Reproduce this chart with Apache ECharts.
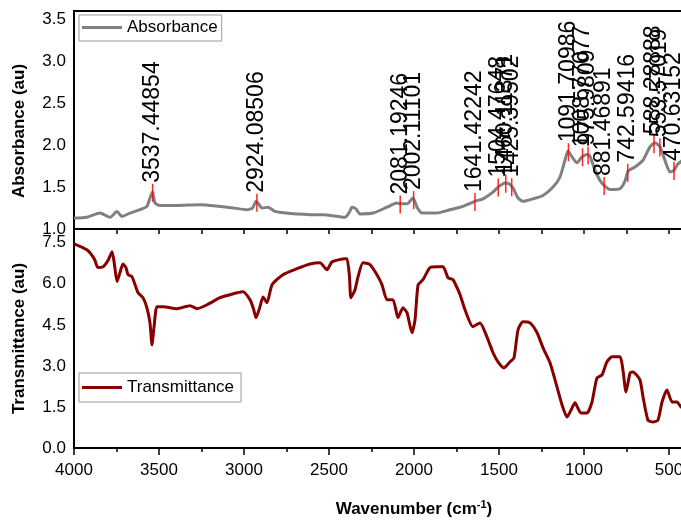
<!DOCTYPE html>
<html>
<head>
<meta charset="utf-8">
<script src="https://cdn.jsdelivr.net/npm/echarts@6/dist/echarts.min.js"></script>
<style>
  html, body { margin: 0; background: #fff; }
  #main { width: 681px; height: 524px; }
</style>
</head>
<body>
<div id="main"></div>
<script>
// ---------- data
const absWave = [4000, 3924, 3847, 3788, 3747, 3718, 3671, 3612, 3571, 3553, 3541, 3537, 3524, 3494, 3400, 3259, 3150, 3024,
  2982, 2950, 2929, 2915, 2894, 2859, 2818, 2750, 2688, 2600, 2535, 2406, 2380, 2365, 2341, 2318, 2241, 2159, 2100, 2082,
  2041, 2006, 1982, 1953, 1865, 1788, 1729, 1712, 1641, 1594, 1535, 1506, 1465, 1441, 1418, 1388, 1359, 1300, 1241, 1182,
  1141, 1112, 1094, 1071, 1041, 1012, 982, 965, 935, 906, 882, 847, 788, 759, 741, 700, 653, 612, 582, 553, 524, 494, 470,
  450, 400];
const absVal = [1.13, 1.14, 1.19, 1.14, 1.21, 1.15, 1.19, 1.23, 1.27, 1.37, 1.43, 1.44, 1.31, 1.28, 1.28, 1.29, 1.27, 1.24,
  1.23, 1.25, 1.33, 1.30, 1.25, 1.26, 1.21, 1.19, 1.18, 1.17, 1.17, 1.14, 1.20, 1.26, 1.24, 1.18, 1.19, 1.26, 1.31, 1.30,
  1.30, 1.37, 1.26, 1.19, 1.19, 1.23, 1.26, 1.27, 1.33, 1.36, 1.44, 1.50, 1.55, 1.54, 1.49, 1.37, 1.33, 1.36, 1.40, 1.50,
  1.62, 1.82, 1.93, 1.86, 1.79, 1.86, 1.89, 1.87, 1.70, 1.58, 1.52, 1.47, 1.48, 1.57, 1.69, 1.74, 1.82, 1.98, 2.03, 1.98,
  1.82, 1.68, 1.70, 1.77, 1.85];

const trWave = [4000, 3924, 3880, 3859, 3829, 3800, 3776, 3762, 3747, 3730, 3712, 3695, 3682, 3659, 3623, 3594, 3571, 3553,
  3541, 3529, 3512, 3476, 3394, 3318, 3276, 3218, 3141, 3082, 3041, 3006, 2965, 2945, 2929, 2906, 2888, 2865, 2835, 2771,
  2688, 2612, 2553, 2512, 2482, 2406, 2394, 2380, 2371, 2347, 2329, 2300, 2259, 2218, 2188, 2159, 2124, 2094, 2065, 2041,
  2012, 1994, 1976, 1947, 1906, 1865, 1829, 1800, 1771, 1750, 1729, 1700, 1653, 1612, 1571, 1535, 1506, 1471, 1435, 1412,
  1388, 1359, 1318, 1276, 1241, 1200, 1159, 1129, 1100, 1076, 1053, 1018, 982, 953, 924, 894, 865, 835, 788, 771, 753, 729,
  712, 671, 653, 624, 594, 565, 541, 512, 482, 453, 429, 400];
const trVal = [7.46, 7.24, 6.90, 6.59, 6.62, 6.85, 7.17, 6.70, 6.08, 6.40, 6.72, 6.60, 6.33, 6.26, 5.67, 5.49, 5.12, 4.57,
  3.77, 4.43, 5.16, 5.16, 5.09, 5.20, 5.09, 5.23, 5.49, 5.60, 5.67, 5.71, 5.42, 5.10, 4.76, 5.16, 5.52, 5.31, 5.96, 6.33,
  6.55, 6.72, 6.77, 6.51, 6.80, 6.91, 6.91, 6.30, 5.49, 5.78, 6.26, 6.77, 6.70, 6.33, 5.96, 5.42, 5.42, 4.76, 5.12, 4.94,
  4.21, 4.68, 5.96, 6.15, 6.59, 6.62, 6.62, 6.22, 6.15, 5.90, 5.60, 5.05, 4.43, 4.57, 4.06, 3.48, 3.15, 2.93, 3.15, 3.29,
  4.32, 4.61, 4.57, 4.21, 3.66, 3.11, 2.23, 1.57, 1.13, 1.39, 1.65, 1.28, 1.28, 1.68, 2.56, 2.67, 3.15, 3.33, 3.33, 2.85,
  2.05, 2.74, 2.78, 2.49, 1.87, 1.02, 0.95, 1.02, 1.68, 2.12, 1.68, 1.68, 1.50, 1.45];

const peakLabels = ["3537.44854", "2924.08506", "2081.19246", "2002.11101", "1641.42242", "1504.47648", "1460.11371",
  "1425.39502", "1091.70986", "1008.77077", "975.9809", "881.46891", "742.59416", "588.28888", "553.57019", "470.63152"];

const xTicks = { min: 0, max: 4000, interval: 500 };
// ---------- data

const font = '"Liberation Sans", Arial, sans-serif';
const absColor = "#808080";
const trColor = "#870000";

//absorbance value at a given wavenumber, used to sit the peak markers on the curve
function absAt(w) {
    for (let i = 0; i < absWave.length - 1; i++) {
        if (w <= absWave[i] && w >= absWave[i + 1]) {
            const t = (absWave[i] - w) / (absWave[i] - absWave[i + 1]);
            return absVal[i] + t * (absVal[i + 1] - absVal[i]);
        }
    }
    return absVal[absVal.length - 1];
}

const myChart = echarts.init(document.getElementById("main"));

const labelStyle = { color: "#000", fontSize: 17, fontFamily: font };
const nameStyle = { color: "#000", fontSize: 17, fontFamily: font, fontWeight: "bold" };

const option = {
    animation: false,
    grid: [
        { left: 74, top: 11, width: 680, height: 218, show: true, borderColor: "#000", borderWidth: 2, outerBoundsMode: "none" },
        { left: 74, top: 229, width: 680, height: 219, show: true, borderColor: "#000", borderWidth: 2, outerBoundsMode: "none" }
    ],
    legend: [
        {
            data: ["Absorbance"], left: 79, top: 15, icon: "rect", itemWidth: 40, itemHeight: 3,
            borderColor: "#999", borderWidth: 1, padding: [4, 4, 5, 3],
            textStyle: { color: "#000", fontSize: 17, fontFamily: font }
        },
        {
            data: ["Transmittance"], left: 79, top: 373, icon: "rect", itemWidth: 40, itemHeight: 3,
            borderColor: "#999", borderWidth: 1, padding: [6, 7, 6, 3],
            textStyle: { color: "#000", fontSize: 17, fontFamily: font }
        }
    ],
    xAxis: [
        {
            gridIndex: 0, type: "value", inverse: true, min: xTicks.min, max: xTicks.max, interval: xTicks.interval,
            axisLine: { show: false }, axisTick: { show: false }, axisLabel: { show: false }, splitLine: { show: false }
        },
        {
            gridIndex: 1, type: "value", inverse: true, position: "bottom",
            min: xTicks.min, max: xTicks.max, interval: xTicks.interval,
            axisLine: { lineStyle: { color: "#000", width: 2 } },
            axisTick: { length: 7, lineStyle: { color: "#000", width: 1.5 } },
            minorTick: { show: true, splitNumber: 2, length: 4, lineStyle: { color: "#000", width: 1.5 } },
            axisLabel: Object.assign({ margin: 14, formatter: v => String(v) }, labelStyle),
            splitLine: { show: false },
            name: "{b|Wavenumber (cm}{s|-1}{b|)}",
            nameLocation: "middle",
            nameGap: 51,
            nameTextStyle: {
                rich: {
                    b: nameStyle,
                    s: { color: "#000", fontSize: 11, fontFamily: font, fontWeight: "bold", padding: [0, 0, 9, 0] }
                }
            }
        },
        {
            gridIndex: 1, type: "value", inverse: true, position: "top",
            min: xTicks.min, max: xTicks.max, interval: xTicks.interval,
            axisLine: { lineStyle: { color: "#000", width: 2 } },
            axisTick: { inside: true, length: 5, lineStyle: { color: "#000", width: 1.5 } },
            minorTick: { show: true, splitNumber: 2, length: 5, lineStyle: { color: "#000", width: 1.5 } },
            axisLabel: { show: false }, splitLine: { show: false }
        }
    ],
    yAxis: [
        {
            gridIndex: 0, type: "value", min: 1.0, max: 3.6, interval: 0.5,
            axisLine: { show: true, lineStyle: { color: "#000", width: 2 } },
            axisTick: { show: true, length: 7, lineStyle: { color: "#000", width: 1.5 } },
            minorTick: { show: true, splitNumber: 2, length: 4, lineStyle: { color: "#000", width: 1.5 } },
            axisLabel: Object.assign({ showMaxLabel: false, formatter: v => v.toFixed(1) }, labelStyle),
            splitLine: { show: false },
            name: "Absorbance (au)", nameLocation: "middle", nameGap: 46,
            nameTextStyle: Object.assign({ padding: [0, 22, 0, 0] }, nameStyle)
        },
        {
            gridIndex: 1, type: "value", min: 0, max: 8, interval: 1.5,
            axisLine: { show: true, lineStyle: { color: "#000", width: 2 } },
            axisTick: { show: true, length: 7, lineStyle: { color: "#000", width: 1.5 } },
            minorTick: { show: true, splitNumber: 2, length: 4, lineStyle: { color: "#000", width: 1.5 } },
            axisLabel: Object.assign({ showMaxLabel: false, formatter: v => v.toFixed(1) }, labelStyle),
            splitLine: { show: false },
            name: "Transmittance (au)", nameLocation: "middle", nameGap: 46,
            nameTextStyle: nameStyle
        }
    ],
    series: [
        {
            name: "Absorbance", type: "line", xAxisIndex: 0, yAxisIndex: 0,
            symbol: "none", smooth: 0.2, color: absColor,
            lineStyle: { color: absColor, width: 3 },
            data: absWave.map((w, i) => [w, absVal[i]])
        },
        {
            name: "Transmittance", type: "line", xAxisIndex: 1, yAxisIndex: 1,
            symbol: "none", smooth: 0.2, color: trColor,
            lineStyle: { color: trColor, width: 3 },
            data: trWave.map((w, i) => [w, trVal[i]])
        },
        {
            //red peak markers with their rotated labels
            type: "custom", xAxisIndex: 0, yAxisIndex: 0, clip: false, z: 5,
            data: peakLabels.map(d => [Number(d)]),
            renderItem: (params, api) => {
                const w = api.value(0);
                const v = absAt(w);
                const top = api.coord([w, v + 0.1]);
                const bot = api.coord([w, v - 0.115]);
                return {
                    type: "group",
                    children: [
                        {
                            type: "line",
                            shape: { x1: top[0], y1: top[1], x2: bot[0], y2: bot[1] },
                            style: { stroke: "rgba(255,0,0,0.85)", lineWidth: 1.5 }
                        },
                        {
                            type: "text", x: top[0], y: top[1] - 1, rotation: Math.PI / 2,
                            style: {
                                text: peakLabels[params.dataIndex], fill: "#000",
                                font: "23px " + font, align: "left", verticalAlign: "middle"
                            }
                        }
                    ]
                };
            }
        }
    ]
};

myChart.setOption(option);
</script>
</body>
</html>
